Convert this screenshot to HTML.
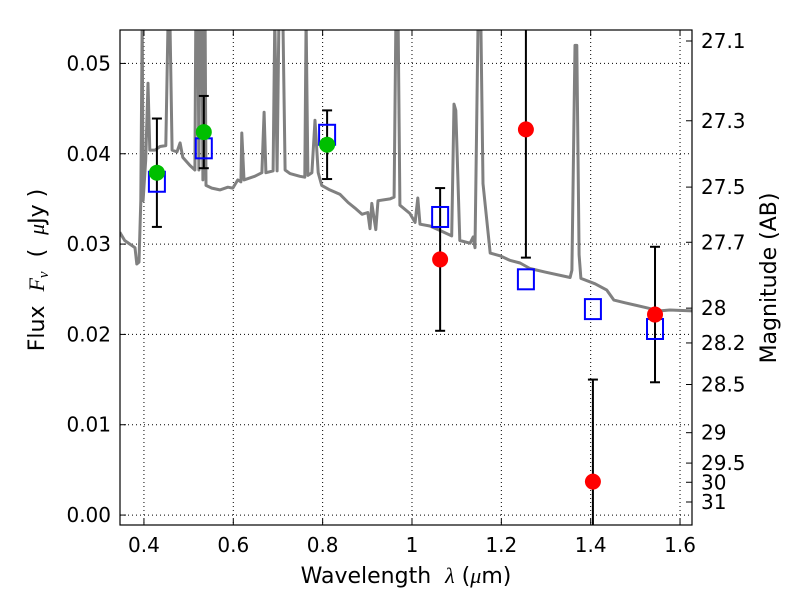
<!DOCTYPE html>
<html><head><meta charset="utf-8"><style>
html,body{margin:0;padding:0;background:#fff;}
svg{display:block;font-family:"DejaVu Sans","Liberation Sans",sans-serif;}
</style></head><body>
<svg id="chart" width="800" height="600" viewBox="0 0 800 600" xmlns="http://www.w3.org/2000/svg">
<defs><clipPath id="plotclip"><rect x="120" y="30" width="572" height="495"/></clipPath></defs>
<rect x="0" y="0" width="800" height="600" fill="#fff"/>
<g id="grid"></g>
<g id="spec" clip-path="url(#plotclip)"></g>
<g id="marks" clip-path="url(#plotclip)"></g>
<rect x="120" y="30" width="572" height="495" fill="none" stroke="#000" stroke-width="1.2"/>
<g id="axes"></g>
<text x="406" y="583" font-size="22" text-anchor="middle">Wavelength&#160;&#160;<tspan font-style="italic" font-family="Liberation Serif">λ</tspan>&#160;(<tspan font-style="italic" font-family="Liberation Serif">μ</tspan>m)</text>
<text transform="translate(44,270) rotate(-90)" font-size="22" text-anchor="middle">Flux&#160;&#160;<tspan font-style="italic" font-family="Liberation Serif">F</tspan><tspan font-style="italic" font-family="Liberation Serif" font-size="15" dy="4">ν</tspan><tspan dy="-4">&#160;&#160;(&#160;&#160;</tspan><tspan font-style="italic" font-family="Liberation Serif">μ</tspan>Jy&#160;)</text>
<text transform="translate(776,278) rotate(-90)" font-size="22" text-anchor="middle">Magnitude (AB)</text>
</svg>
<script>
const xTicks=[0.4,0.6,0.8,1.0,1.2,1.4,1.6];
const xTickLabels=["0.4","0.6","0.8","1","1.2","1.4","1.6"];
const yTicks=[0.00,0.01,0.02,0.03,0.04,0.05];
const yTickLabels=["0.00","0.01","0.02","0.03","0.04","0.05"];
const magTicks=[27.1,27.3,27.5,27.7,28,28.2,28.5,29,29.5,30,31];
const magTickLabels=["27.1","27.3","27.5","27.7","28","28.2","28.5","29","29.5","30","31"];
const specLambda=[0.346,0.357,0.380,0.384,0.389,0.393,0.396,0.398,0.404,0.409,0.413,0.425,0.436,0.449,0.454,0.458,0.463,0.474,0.481,0.487,0.503,0.514,0.516,0.521,0.523,0.525,0.530,0.532,0.534,0.537,0.539,0.552,0.570,0.588,0.599,0.610,0.617,0.619,0.624,0.648,0.664,0.669,0.673,0.689,0.693,0.698,0.702,0.711,0.716,0.727,0.749,0.760,0.763,0.767,0.776,0.783,0.790,0.798,0.816,0.839,0.857,0.872,0.888,0.901,0.906,0.910,0.919,0.924,0.951,0.960,0.964,0.969,0.973,0.995,1.007,1.013,1.018,1.040,1.063,1.089,1.094,1.098,1.107,1.130,1.137,1.141,1.148,1.154,1.159,1.175,1.197,1.219,1.242,1.264,1.298,1.354,1.358,1.365,1.369,1.374,1.378,1.410,1.436,1.452,1.477,1.521,1.555,1.577,1.627];
const specFlux=[0.0313,0.0304,0.0296,0.0278,0.0280,0.0348,0.055,0.0348,0.0393,0.0478,0.0404,0.0404,0.0408,0.0409,0.055,0.055,0.0404,0.0402,0.0412,0.0396,0.0387,0.0382,0.055,0.055,0.0382,0.055,0.055,0.0371,0.055,0.055,0.0365,0.0362,0.0360,0.0363,0.0362,0.0371,0.0369,0.0423,0.0371,0.0375,0.0379,0.0446,0.0379,0.0381,0.055,0.0381,0.055,0.055,0.0382,0.0378,0.0375,0.0374,0.055,0.0376,0.0379,0.0437,0.0379,0.0365,0.0360,0.0355,0.0346,0.0340,0.0333,0.0335,0.0317,0.0345,0.0316,0.0348,0.0350,0.0352,0.055,0.055,0.0343,0.0334,0.0324,0.0351,0.0322,0.0320,0.0315,0.0309,0.0455,0.0448,0.0304,0.0301,0.0308,0.0296,0.055,0.055,0.0367,0.0290,0.0287,0.0282,0.0279,0.0273,0.0269,0.0263,0.0271,0.0520,0.0520,0.0288,0.0262,0.0256,0.0249,0.0238,0.0235,0.0230,0.0226,0.0227,0.0226];
const bandLambda=[0.429,0.534,0.810,1.063,1.255,1.405,1.544];
const modelFlux=[0.0369,0.0406,0.0421,0.0330,0.0261,0.0228,0.0206];
const obsGreenLambda=[0.429,0.534,0.810];
const obsGreenFlux=[0.0379,0.0424,0.0410];
const obsGreenErr=[0.0060,0.0040,0.0038];
const obsRedLambda=[1.063,1.255,1.405,1.544];
const obsRedFlux=[0.0283,0.0427,0.0037,0.0222];
const obsRedErr=[0.0079,0.0142,0.0113,0.0075];

const NS="http://www.w3.org/2000/svg";
const X0=120,X1=692,Y0=30,Y1=525;
const xmin=0.3464,xmax=1.6268,ymin=-0.0011,ymax=0.0537;
const sx=v=>X0+(v-xmin)/(xmax-xmin)*(X1-X0);
const sy=v=>Y1-(v-ymin)/(ymax-ymin)*(Y1-Y0);
const magToFlux=m=>Math.pow(10,(23.9-m)/2.5);
function mk(tag,attrs,parent){const e=document.createElementNS(NS,tag);for(const k in attrs)e.setAttribute(k,attrs[k]);parent.appendChild(e);return e;}
const grid=document.getElementById('grid'),axes=document.getElementById('axes'),spec=document.getElementById('spec'),marks=document.getElementById('marks');

xTicks.forEach((t,i)=>{const x=sx(t);
 const g=mk('line',{x1:x,x2:x,y1:Y0,y2:Y1,stroke:'#000','stroke-width':1,'stroke-dasharray':'1,3'},grid);
 
 mk('line',{x1:x,x2:x,y1:Y1,y2:Y1-6,stroke:'#000'},axes);
 mk('line',{x1:x,x2:x,y1:Y0,y2:Y0+6,stroke:'#000'},axes);
 const tx=mk('text',{x:x,y:Y1+27,'font-size':20,'text-anchor':'middle'},axes);tx.textContent=xTickLabels[i];
 
});
yTicks.forEach((t,i)=>{const y=sy(t);
 const g=mk('line',{x1:X0,x2:X1,y1:y,y2:y,stroke:'#000','stroke-width':1,'stroke-dasharray':'1,3'},grid);
 
 mk('line',{x1:X0,x2:X0+6,y1:y,y2:y,stroke:'#000'},axes);
 const tx=mk('text',{x:X0-9,y:y+7,'font-size':20,'text-anchor':'end'},axes);tx.textContent=yTickLabels[i];
 
});
magTicks.forEach((m,i)=>{const y=sy(magToFlux(m));
 mk('line',{x1:X1,x2:X1-6,y1:y,y2:y,stroke:'#000'},axes);
 const tx=mk('text',{x:X1+9,y:y+7,'font-size':20,'text-anchor':'start'},axes);tx.textContent=magTickLabels[i];
 
});

const d=specLambda.map((l,i)=>(i?'L':'M')+sx(l).toFixed(1)+','+sy(specFlux[i]).toFixed(1)).join('');
const p=mk('path',{d:d,fill:'none',stroke:'#808080','stroke-width':3,'stroke-linejoin':'round'},spec);


function errbar(l,f,e,name){const x=sx(l);
 const g=mk('g',{stroke:'#000','stroke-width':2},marks);
 
 mk('line',{x1:x,x2:x,y1:sy(f+e),y2:sy(f-e)},g);
 mk('line',{x1:x-5,x2:x+5,y1:sy(f+e),y2:sy(f+e)},g);
 mk('line',{x1:x-5,x2:x+5,y1:sy(f-e),y2:sy(f-e)},g);
}
obsGreenLambda.forEach((l,i)=>errbar(l,obsGreenFlux[i],obsGreenErr[i],'green-error-bar'));
obsRedLambda.forEach((l,i)=>errbar(l,obsRedFlux[i],obsRedErr[i],'red-error-bar'));
bandLambda.forEach((l,i)=>{
 const r=mk('rect',{x:sx(l)-8,y:sy(modelFlux[i])-10,width:16,height:20,fill:'none',stroke:'#0000ff','stroke-width':2},marks);
 
});
obsGreenLambda.forEach((l,i)=>{
 const c=mk('circle',{cx:sx(l),cy:sy(obsGreenFlux[i]),r:8,fill:'#00bf00'},marks);
 
});
obsRedLambda.forEach((l,i)=>{
 const c=mk('circle',{cx:sx(l),cy:sy(obsRedFlux[i]),r:8,fill:'#ff0000'},marks);
 
});
</script>
</body></html>
